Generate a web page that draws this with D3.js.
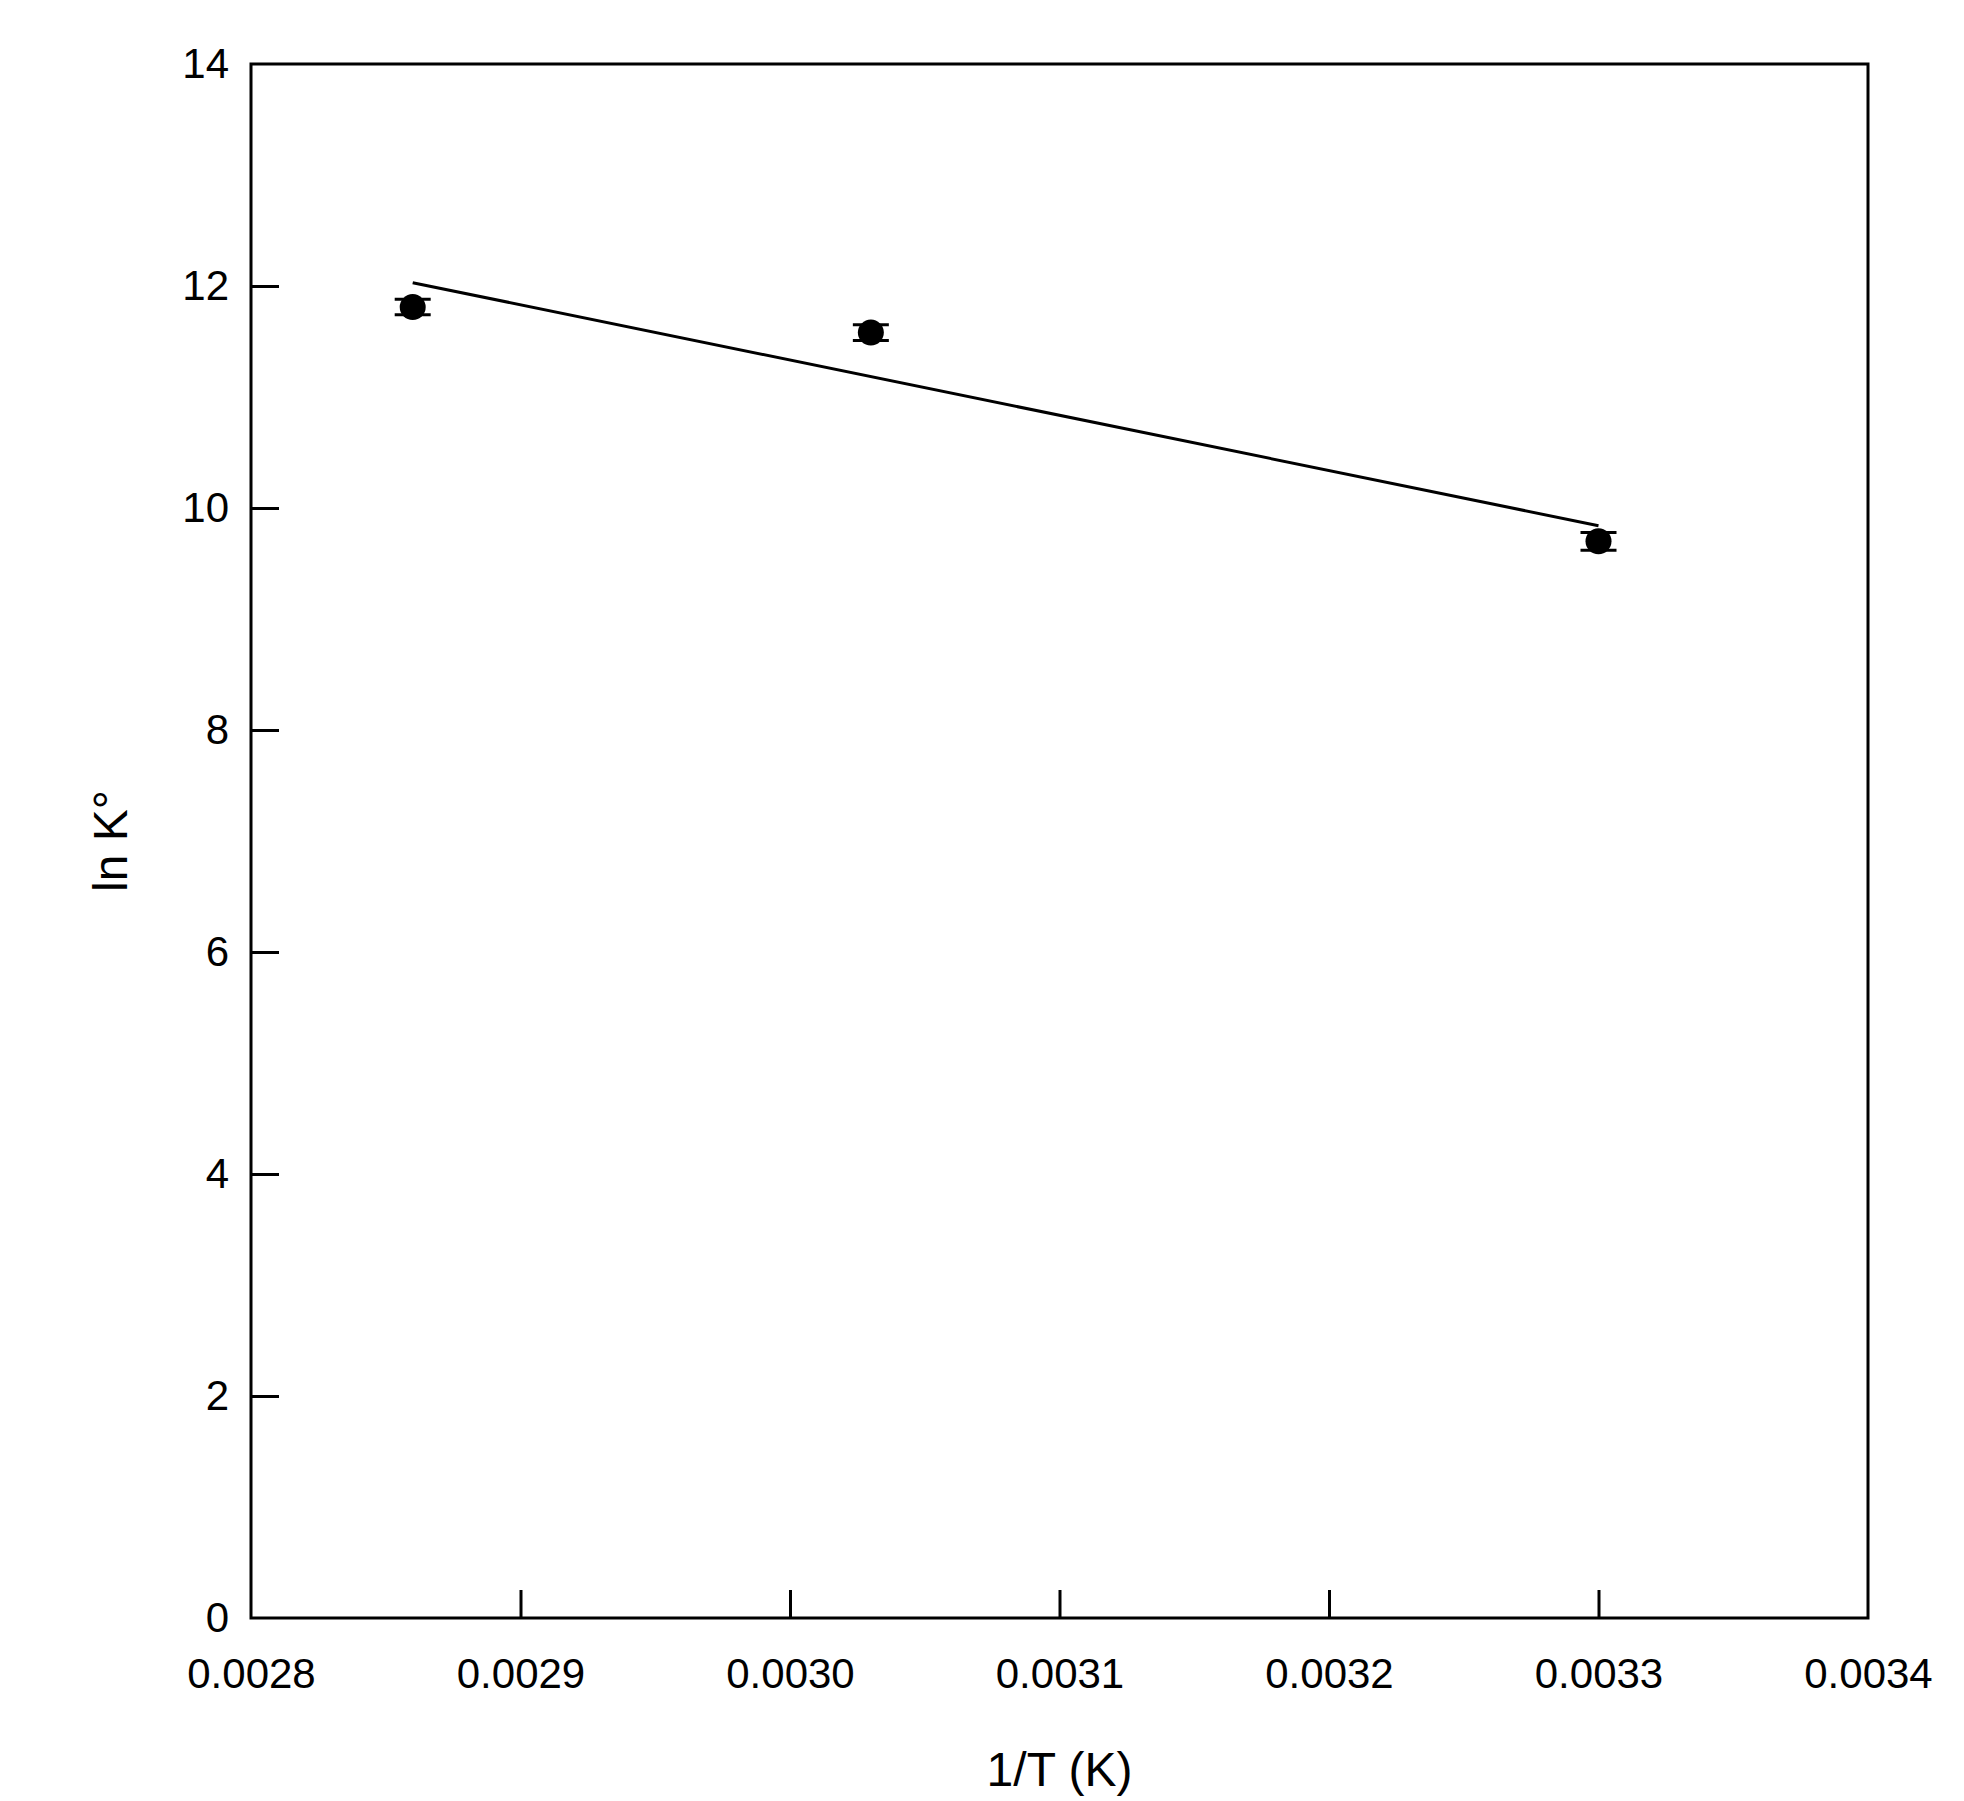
<!DOCTYPE html>
<html><head><meta charset="utf-8">
<script src="https://cdn.jsdelivr.net/npm/d3@7"></script>
<style>body{margin:0;background:#fff}</style></head>
<body><div id="chart"></div>
<script>
const invT = [0.00286, 0.00303, 0.00330];
const lnK = [11.81, 11.58, 9.70];
const lnKErr = [0.07, 0.07, 0.08];
const fitX = [0.00286, 0.00330];
const fitY = [12.03, 9.84];
const xTicks = [0.0028, 0.0029, 0.0030, 0.0031, 0.0032, 0.0033, 0.0034];
const yTicks = [0, 2, 4, 6, 8, 10, 12, 14];

const W = 1964, H = 1801;
const margin = { top: 64, left: 251, right: 96, bottom: 183 };
const svg = d3.select("#chart").append("svg").attr("width", W).attr("height", H);
const x = d3.scaleLinear().domain([0.0028, 0.0034]).range([margin.left, W - margin.right]);
const y = d3.scaleLinear().domain([0, 14]).range([H - margin.bottom, margin.top]);
const font = "Arial, 'Liberation Sans', sans-serif";

// frame
svg.append("rect").attr("x", x(0.0028)).attr("y", y(14))
  .attr("width", x(0.0034) - x(0.0028)).attr("height", y(0) - y(14))
  .attr("fill", "none").attr("stroke", "#000").attr("stroke-width", 3);

// axes (ticks inside)
const xa = svg.append("g").attr("transform", `translate(0,${y(0)})`)
  .call(d3.axisBottom(x).tickValues(xTicks).tickSize(-28).tickPadding(40).tickFormat(d3.format(".4f")));
const ya = svg.append("g").attr("transform", `translate(${x(0.0028)},0)`)
  .call(d3.axisLeft(y).tickValues(yTicks).tickSize(-28).tickPadding(22));
[xa, ya].forEach(a => {
  a.select(".domain").remove();
  a.selectAll("line").attr("stroke", "#000").attr("stroke-width", 3);
  a.selectAll("text").attr("font-family", font).attr("font-size", 42).attr("fill", "#000");
});
xa.selectAll(".tick").filter(d => d === 0.0028 || d === 0.0034).select("line").remove();
ya.selectAll(".tick").filter(d => d === 0 || d === 14).select("line").remove();

// fit line
svg.append("line").attr("x1", x(fitX[0])).attr("y1", y(fitY[0]))
  .attr("x2", x(fitX[1])).attr("y2", y(fitY[1]))
  .attr("stroke", "#000").attr("stroke-width", 3);

// error bars + points
const pts = invT.map((v, i) => ({ x: v, y: lnK[i], e: lnKErr[i] }));
const g = svg.append("g");
pts.forEach(p => {
  [p.y - p.e, p.y + p.e].forEach(v => {
    g.append("line").attr("x1", x(p.x) - 18).attr("x2", x(p.x) + 18)
      .attr("y1", y(v)).attr("y2", y(v)).attr("stroke", "#000").attr("stroke-width", 3);
  });
  g.append("circle").attr("cx", x(p.x)).attr("cy", y(p.y)).attr("r", 13).attr("fill", "#000");
});

// labels
svg.append("text").attr("x", (x(0.0028) + x(0.0034)) / 2).attr("y", 1786)
  .attr("text-anchor", "middle").attr("font-family", font).attr("font-size", 48).text("1/T (K)");
svg.append("text").attr("transform", `translate(127,${(y(0) + y(14)) / 2}) rotate(-90)`)
  .attr("text-anchor", "middle").attr("font-family", font).attr("font-size", 48).text("ln K°");
</script></body></html>
